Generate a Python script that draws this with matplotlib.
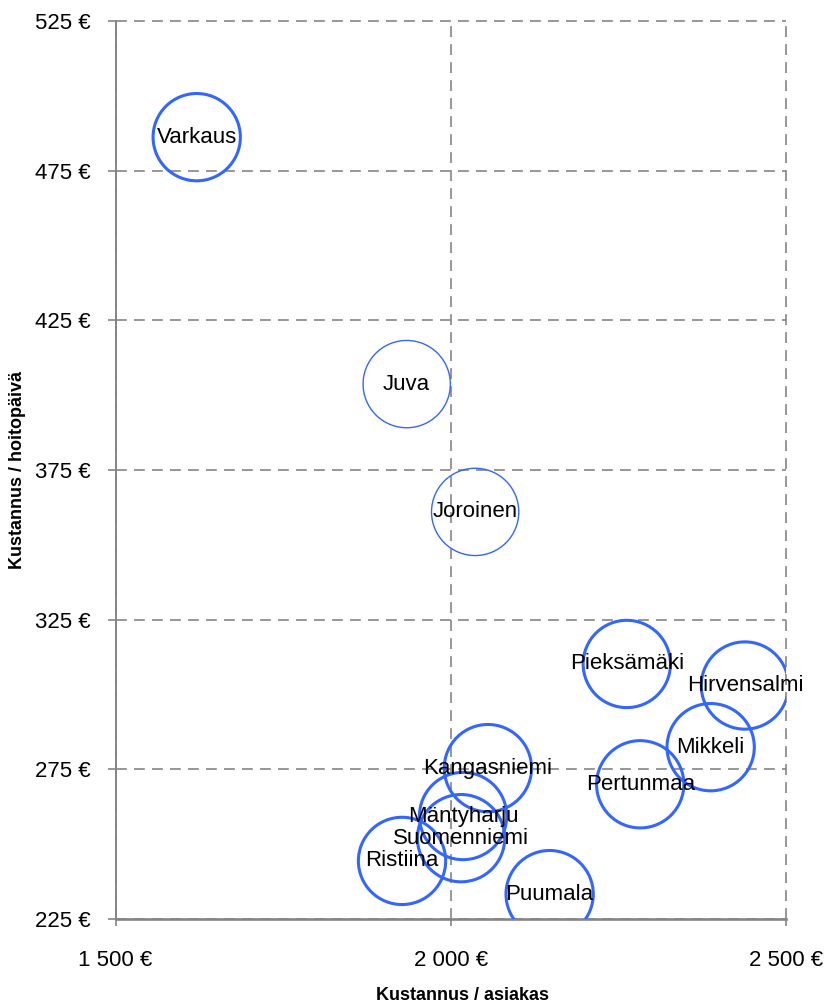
import matplotlib.pyplot as plt
from matplotlib.ticker import FuncFormatter

# kuntien kustannukset (luettu kuvasta)
kunnat = ["Varkaus", "Juva", "Joroinen", "Kangasniemi", "Mäntyharju", "Suomenniemi",
          "Ristiina", "Puumala", "Pieksämäki", "Hirvensalmi", "Mikkeli", "Pertunmaa"]
kustannus_asiakas = [1621, 1934, 2036, 2055, 2018, 2015, 1927, 2147, 2262, 2438, 2387, 2282]
kustannus_hoitopaiva = [486.2, 403.7, 361.0, 275.4, 259.4, 252.0, 244.4, 233.3, 310.2, 303.0, 282.4, 270.0]
ohuet = ["Juva", "Joroinen"]

x_ticks = [1500, 2000, 2500]
y_ticks = [225, 275, 325, 375, 425, 475, 525]

NARROW = ["Liberation Sans Narrow", "Liberation Sans", "DejaVu Sans"]
BLUE = "#3366ff"
GRAY = "#858585"


def euro(v, pos=None):
    return f"{v:,.0f} €".replace(",", " ")


fig = plt.figure(figsize=(8.27, 10.06), dpi=100)
ax = fig.add_axes([0.1397, 0.0865, 0.8113, 0.8926])

for nimi, x, y in zip(kunnat, kustannus_asiakas, kustannus_hoitopaiva):
    lw = 1.0 if nimi in ohuet else 2.2
    ax.scatter(x, y, s=3950, facecolors="none", edgecolors=BLUE, linewidths=lw, zorder=3)

for nimi, x, y in zip(kunnat, kustannus_asiakas, kustannus_hoitopaiva):
    ax.text(x, y, nimi, ha="center", va="center", fontsize=16, family=NARROW,
            color="black", zorder=4)

ax.set_xlim(x_ticks[0], x_ticks[-1])
ax.set_ylim(y_ticks[0], y_ticks[-1])
ax.set_xticks(x_ticks)
ax.set_yticks(y_ticks)
ax.xaxis.set_major_formatter(FuncFormatter(euro))
ax.yaxis.set_major_formatter(FuncFormatter(euro))

ax.grid(True, color=GRAY, linestyle=(0, (6.5, 4.3)), linewidth=1.2, zorder=1)
ax.set_axisbelow(True)
for line in ax.get_xgridlines() + ax.get_ygridlines():
    line.set_clip_on(False)

for side in ["top", "right"]:
    ax.spines[side].set_visible(False)
ax.spines["left"].set_color(GRAY)
ax.spines["left"].set_linewidth(1.4)
ax.spines["bottom"].set_color(GRAY)
ax.spines["bottom"].set_linewidth(1.9)

ax.tick_params(axis="y", direction="out", length=6, width=1.2, color=GRAY, pad=12)
ax.tick_params(axis="x", direction="out", length=5, width=1.2, color=GRAY, pad=17)
for lab in ax.get_xticklabels() + ax.get_yticklabels():
    lab.set_family(NARROW)
    lab.set_fontsize(16)

fig.text(18 / 827, 1 - 470 / 1006, "Kustannus / hoitopäivä", rotation=90,
         ha="center", va="center", fontsize=13, fontweight="bold",
         family=["Liberation Sans", "DejaVu Sans"])
fig.text(462 / 827, 1 - 996 / 1006, "Kustannus / asiakas",
         ha="center", va="center", fontsize=13, fontweight="bold",
         family=["Liberation Sans", "DejaVu Sans"])

fig.savefig("out.png", dpi=100)
